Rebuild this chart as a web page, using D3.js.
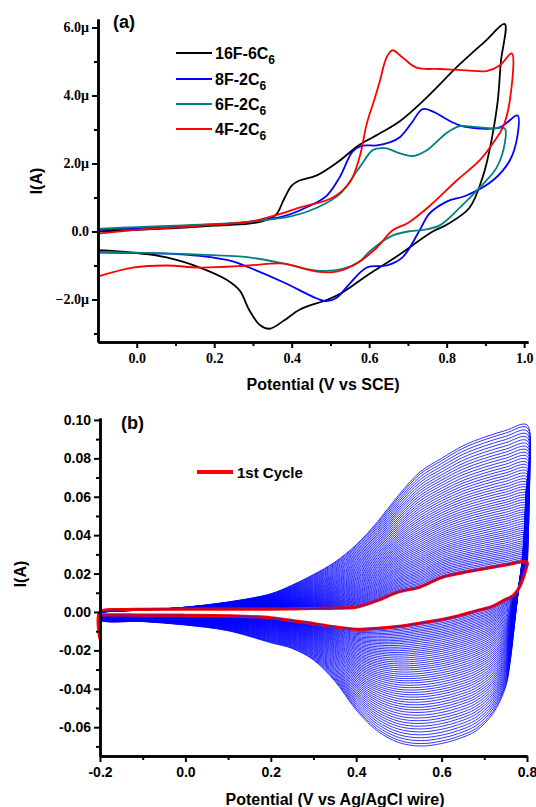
<!DOCTYPE html>
<html><head><meta charset="utf-8">
<script src="https://cdn.jsdelivr.net/npm/d3@7"></script>
<style>body{margin:0;background:#fff}</style>
</head><body>
<svg id="c" width="536" height="807"></svg>
<script>
// ---------- Panel (a) data: [potential V, current µA] ----------
const seriesNames = ["16F-6C6", "8F-2C6", "6F-2C6", "4F-2C6"];
const seriesColors = ["#000000", "#0000ff", "#008080", "#ff0000"];

const black16F_fwd = [[-0.1,0.0],[0.0,0.05],[0.1,0.1],[0.2,0.17],[0.29,0.23],[0.33,0.32],[0.36,0.5],[0.38,0.95],[0.40,1.35],[0.42,1.5],[0.465,1.65],[0.52,2.05],[0.575,2.55],[0.627,2.88],[0.68,3.25],[0.74,3.85],[0.834,4.92],[0.9,5.6],[0.95,6.1]];
const black16F_rev = [[0.95,6.1],[0.94,5.0],[0.932,3.85],[0.919,2.88],[0.905,2.1],[0.893,1.6],[0.859,0.7],[0.8,0.2],[0.764,0.0],[0.67,-0.74],[0.6,-1.25],[0.53,-1.8],[0.493,-2.0],[0.42,-2.3],[0.38,-2.62],[0.343,-2.86],[0.318,-2.75],[0.29,-2.3],[0.266,-1.74],[0.232,-1.42],[0.163,-1.06],[0.077,-0.76],[-0.01,-0.62],[-0.1,-0.55]];

const blue8F_fwd = [[-0.1,0.05],[0.0,0.1],[0.1,0.15],[0.2,0.2],[0.3,0.3],[0.38,0.45],[0.44,0.72],[0.49,1.05],[0.524,1.6],[0.557,2.35],[0.58,2.52],[0.62,2.53],[0.653,2.62],[0.68,2.78],[0.71,3.2],[0.738,3.6],[0.77,3.5],[0.8,3.3],[0.834,3.12],[0.885,3.03],[0.937,3.06],[0.983,3.41]];
const blue8F_rev = [[0.983,3.41],[0.982,2.76],[0.963,2.09],[0.919,1.5],[0.851,1.06],[0.8,0.88],[0.756,0.53],[0.73,0.03],[0.686,-0.76],[0.645,-1.0],[0.594,-1.06],[0.55,-1.53],[0.516,-1.95],[0.49,-2.05],[0.465,-1.97],[0.38,-1.5],[0.29,-1.06],[0.248,-0.88],[0.163,-0.72],[0.077,-0.65],[-0.1,-0.62]];

const teal6F_fwd = [[-0.1,0.08],[0.0,0.13],[0.1,0.17],[0.2,0.22],[0.3,0.3],[0.4,0.45],[0.465,0.7],[0.524,1.1],[0.575,1.88],[0.61,2.4],[0.64,2.45],[0.68,2.3],[0.712,2.22],[0.75,2.4],[0.8,2.9],[0.834,3.1],[0.87,3.08],[0.919,3.03],[0.95,3.03]];
const teal6F_rev = [[0.95,3.03],[0.95,2.59],[0.929,1.88],[0.885,1.29],[0.834,0.7],[0.782,0.18],[0.74,0.05],[0.7,0.0],[0.66,-0.12],[0.627,-0.35],[0.6,-0.6],[0.575,-0.88],[0.532,-1.1],[0.465,-1.15],[0.377,-0.94],[0.29,-0.76],[0.163,-0.68],[-0.01,-0.62],[-0.1,-0.6]];

const red4F_fwd = [[-0.1,-0.06],[0.0,0.05],[0.1,0.12],[0.2,0.2],[0.29,0.28],[0.35,0.45],[0.42,0.7],[0.506,1.0],[0.55,1.45],[0.575,2.18],[0.594,3.18],[0.614,3.9],[0.627,4.4],[0.645,5.12],[0.66,5.33],[0.686,5.12],[0.722,4.82],[0.782,4.78],[0.851,4.74],[0.903,4.72],[0.937,4.88],[0.968,5.24]];
const red4F_rev = [[0.968,5.24],[0.963,3.85],[0.945,3.06],[0.919,2.59],[0.885,2.09],[0.826,1.5],[0.756,0.75],[0.70,0.25],[0.66,0.03],[0.62,-0.47],[0.568,-0.94],[0.516,-1.18],[0.465,-1.18],[0.377,-0.94],[0.29,-1.0],[0.163,-1.06],[0.077,-1.0],[-0.01,-1.06],[-0.1,-1.32]];

const aXMajor = [0.0,0.2,0.4,0.6,0.8,1.0];
const aXMinor = [0.1,0.3,0.5,0.7,0.9];
const aYMajor = [-2,0,2,4,6];
const aYMinor = [-3,-1,1,3,5];

// ---------- Panel (b) data: [potential V grid], currents A ----------
const bFwdV     = [-0.2,-0.15,-0.1,0.0,0.1,0.2,0.25,0.3,0.35,0.4,0.45,0.5,0.55,0.6,0.65,0.7,0.75,0.8];
const bFirstFwd = [0.0,0.0012,0.0014,0.0015,0.0015,0.0015,0.0016,0.0018,0.002,0.0025,0.006,0.0105,0.013,0.018,0.0205,0.0225,0.0245,0.026];
const bLastFwd  = [0.0,0.0005,0.001,0.0025,0.0052,0.0095,0.014,0.0195,0.026,0.035,0.047,0.061,0.073,0.080,0.0865,0.091,0.0945,0.0974];
const bRevV     = [0.8,0.797,0.79,0.78,0.77,0.76,0.75,0.72,0.68,0.64,0.6,0.55,0.5,0.45,0.4,0.35,0.3,0.25,0.2,0.1,0.0,-0.1,-0.2];
const bFirstRev = [0.026,0.022,0.017,0.012,0.009,0.0075,0.0065,0.003,0.0005,-0.002,-0.004,-0.0058,-0.0075,-0.0085,-0.009,-0.0078,-0.006,-0.0045,-0.003,-0.002,-0.0017,-0.0016,-0.0015];
const bLastRev  = [0.0974,0.06,0.03,0.012,-0.008,-0.027,-0.039,-0.053,-0.062,-0.066,-0.0685,-0.0698,-0.068,-0.062,-0.051,-0.036,-0.025,-0.019,-0.016,-0.0098,-0.0068,-0.005,-0.004];
// anodic vertex current (A at 0.8 V) of each cycle
const bCycleVertex = [0.0260,0.0269,0.0278,0.0287,0.0297,0.0306,0.0316,0.0326,0.0336,0.0346,0.0356,0.0366,0.0377,0.0388,0.0399,0.0410,0.0421,0.0432,0.0443,0.0455,0.0467,0.0479,0.0491,0.0503,0.0515,0.0527,0.0540,0.0553,0.0566,0.0579,0.0592,0.0605,0.0619,0.0633,0.0647,0.0661,0.0675,0.0689,0.0704,0.0719,0.0734,0.0749,0.0764,0.0779,0.0795,0.0811,0.0827,0.0843,0.0859,0.0875,0.0892,0.0909,0.0926,0.0943,0.0960,0.0974];
const bStartSpike = [[-0.2,-0.014],[-0.2,0.0]];

const bXMajor = [-0.2,0.0,0.2,0.4,0.6,0.8];
const bXMinor = [-0.1,0.1,0.3,0.5,0.7];
const bYMajor = [-0.06,-0.04,-0.02,0.0,0.02,0.04,0.06,0.08,0.10];
const bYMinor = [-0.07,-0.05,-0.03,-0.01,0.01,0.03,0.05,0.07,0.09];

// ---------- drawing ----------
const svg = d3.select("#c");
const SANS = "'Liberation Sans', Arial, sans-serif";
const SERIF = "'Liberation Serif', 'Times New Roman', serif";

function styleAxis(g, font, size) {
  g.select(".domain").attr("stroke", "#000").attr("stroke-width", 2.5);
  g.selectAll(".tick line").attr("stroke", "#000").attr("stroke-width", 2);
  g.selectAll(".tick text").attr("font-family", font).attr("font-size", size).attr("font-weight", "bold").attr("fill", "#000");
}

// Panel (a)
const xa = d3.scaleLinear().domain([-0.1, 1.01]).range([98, 528]);
const ya = d3.scaleLinear().domain([-3.25, 6.25]).range([342, 19]);
const ga = svg.append("g");

const lineA = d3.line().x(d => xa(d[0])).y(d => ya(d[1])).curve(d3.curveCatmullRom.alpha(0.5));
const aSeries = [
  black16F_fwd.concat(black16F_rev.slice(1)),
  blue8F_fwd.concat(blue8F_rev.slice(1)),
  teal6F_fwd.concat(teal6F_rev.slice(1)),
  red4F_fwd.concat(red4F_rev.slice(1))
];
ga.selectAll("path.cv").data(aSeries).join("path").attr("class", "cv")
  .attr("d", lineA).attr("fill", "none")
  .attr("stroke", (d, i) => seriesColors[i]).attr("stroke-width", 1.8).attr("stroke-linejoin", "round");

const aXmin = ga.append("g").attr("transform", "translate(0,342)")
  .call(d3.axisBottom(xa).tickValues(aXMinor).tickSize(4).tickFormat("").tickSizeOuter(0));
styleAxis(aXmin, SERIF, 14);
const aX = ga.append("g").attr("transform", "translate(0,342)")
  .call(d3.axisBottom(xa).tickValues(aXMajor).tickSize(6).tickPadding(5).tickFormat(v => v.toFixed(1)).tickSizeOuter(0));
styleAxis(aX, SERIF, 14);
const aYmin = ga.append("g").attr("transform", "translate(98,0)")
  .call(d3.axisLeft(ya).tickValues(aYMinor).tickSize(4).tickFormat("").tickSizeOuter(0));
styleAxis(aYmin, SERIF, 14);
const aY = ga.append("g").attr("transform", "translate(98,0)")
  .call(d3.axisLeft(ya).tickValues(aYMajor).tickSize(6).tickPadding(3)
    .tickFormat(v => v === 0 ? "0.0" : (v < 0 ? "\u2212" : "") + Math.abs(v).toFixed(1) + "\u03bc").tickSizeOuter(0));
styleAxis(aY, SERIF, 14);

ga.append("text").attr("x", 113).attr("y", 28).text("(a)")
  .attr("font-family", SANS).attr("font-weight", "bold").attr("font-size", 18);
ga.append("text").attr("transform", "translate(42,181) rotate(-90)").attr("text-anchor", "middle").text("I(A)")
  .attr("font-family", SANS).attr("font-weight", "bold").attr("font-size", 16);
ga.append("text").attr("x", 323).attr("y", 390).attr("text-anchor", "middle").text("Potential (V vs SCE)")
  .attr("font-family", SANS).attr("font-weight", "bold").attr("font-size", 16);

const legY = [53, 79, 104, 129];
seriesNames.forEach((n, i) => {
  ga.append("line").attr("x1", 176).attr("x2", 212).attr("y1", legY[i]).attr("y2", legY[i])
    .attr("stroke", seriesColors[i]).attr("stroke-width", 1.8);
  const t = ga.append("text").attr("x", 215).attr("y", legY[i] + 5.5)
    .attr("font-family", SANS).attr("font-weight", "bold").attr("font-size", 16);
  t.append("tspan").text(n.slice(0, -1));
  t.append("tspan").attr("dy", 5).attr("font-size", 12).text(n.slice(-1));
});

// Panel (b)
const xb = d3.scaleLinear().domain([-0.2, 0.8]).range([100, 527]);
const yb = d3.scaleLinear().domain([-0.075, 0.101]).range([756, 418]);
const gb = svg.append("g");
const lineB = d3.line().x(d => xb(d[0])).y(d => yb(d[1])).curve(d3.curveCatmullRom.alpha(0.5));

const f0 = bCycleVertex[0], f1 = bCycleVertex[bCycleVertex.length - 1];
function cycle(vtx) {
  const t = (vtx - f0) / (f1 - f0);
  const fwd = bFwdV.map((v, i) => [v, bFirstFwd[i] + t * (bLastFwd[i] - bFirstFwd[i])]);
  const rev = bRevV.map((v, i) => [v, bFirstRev[i] + t * (bLastRev[i] - bFirstRev[i])]);
  return fwd.concat(rev.slice(1)).concat([fwd[0]]);
}
const cycles = bCycleVertex.map(cycle);
gb.selectAll("path.cyc").data(cycles).join("path").attr("class", "cyc")
  .attr("d", lineB).attr("fill", "none").attr("stroke", "#0000ff").attr("stroke-width", 0.8);

const firstCycle = bStartSpike.concat(cycles[0].slice(1, -1));
gb.append("path").attr("d", lineB(firstCycle)).attr("fill", "none").attr("stroke", "#ff0000").attr("stroke-width", 3.2).attr("stroke-linejoin", "round");
gb.append("path").attr("d", lineB(cycles[0].slice(0, -1))).attr("fill", "none").attr("stroke", "#2020c0").attr("stroke-width", 0.9).attr("opacity", 0.8);

const bXmin = gb.append("g").attr("transform", "translate(0,756)")
  .call(d3.axisBottom(xb).tickValues(bXMinor).tickSize(4).tickFormat("").tickSizeOuter(0));
styleAxis(bXmin, SANS, 14);
const bX = gb.append("g").attr("transform", "translate(0,756)")
  .call(d3.axisBottom(xb).tickValues(bXMajor).tickSize(6).tickPadding(5).tickFormat(v => v.toFixed(1)).tickSizeOuter(0));
styleAxis(bX, SANS, 14);
const bYmin = gb.append("g").attr("transform", "translate(100,0)")
  .call(d3.axisLeft(yb).tickValues(bYMinor).tickSize(4).tickFormat("").tickSizeOuter(0));
styleAxis(bYmin, SANS, 14);
const bY = gb.append("g").attr("transform", "translate(100,0)")
  .call(d3.axisLeft(yb).tickValues(bYMajor).tickSize(6).tickPadding(3)
    .tickFormat(v => Math.abs(v) < 1e-9 ? "0.00" : v.toFixed(2)).tickSizeOuter(0));
styleAxis(bY, SANS, 14);

gb.append("text").attr("x", 121).attr("y", 429).text("(b)")
  .attr("font-family", SANS).attr("font-weight", "bold").attr("font-size", 18);
gb.append("text").attr("transform", "translate(26,574) rotate(-90)").attr("text-anchor", "middle").text("I(A)")
  .attr("font-family", SANS).attr("font-weight", "bold").attr("font-size", 16);
gb.append("text").attr("x", 335).attr("y", 805).attr("text-anchor", "middle").text("Potential (V vs Ag/AgCl wire)")
  .attr("font-family", SANS).attr("font-weight", "bold").attr("font-size", 16);
gb.append("line").attr("x1", 197).attr("x2", 233).attr("y1", 472).attr("y2", 472).attr("stroke", "#ff0000").attr("stroke-width", 4);
gb.append("text").attr("x", 237).attr("y", 477.5).text("1st Cycle")
  .attr("font-family", SANS).attr("font-weight", "bold").attr("font-size", 15);
</script>
</body></html>
